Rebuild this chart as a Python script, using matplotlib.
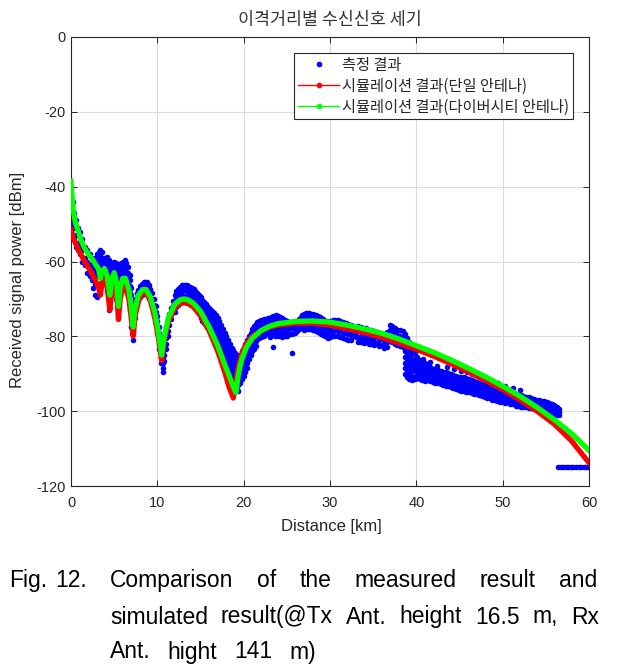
import matplotlib
matplotlib.use("Agg")
import matplotlib.pyplot as plt
from matplotlib.lines import Line2D
from matplotlib.font_manager import FontProperties

plt.rcParams['font.family'] = ['Liberation Sans', 'DejaVu Sans']
plt.rcParams['axes.unicode_minus'] = False

# ---------------- data ----------------
title = '이격거리별 수신신호 세기'
xlabel = 'Distance [km]'
ylabel = 'Received signal power [dBm]'
series_labels = ['측정 결과', '시뮬레이션 결과(단일 안테나)', '시뮬레이션 결과(다이버시티 안테나)']
x_ticks = [0, 10, 20, 30, 40, 50, 60]
y_ticks = [-120, -100, -80, -60, -40, -20, 0]

# measured result: (distance km, [received power dBm ...])
meas = [
    (0.05, [-40, -45, -50, -53]), (0.2, [-44, -49, -53]), (0.4, [-47, -51, -54]),
    (0.6, [-49, -53, -56]), (0.8, [-51, -55, -57]), (1.0, [-52, -56, -58]),
    (1.3, [-54, -57, -60]), (1.6, [-56, -59, -61]), (1.9, [-57, -60, -63]),
    (2.2, [-58, -61, -64]), (2.4, [-59, -62, -65]),
    (2.6, [-60, -61.5, -63, -65, -67]), (2.8, [-59, -60.5, -62, -64, -66, -69]),
    (3.0, [-58, -59.5, -61, -62.5, -64, -69.5]), (3.2, [-57.5, -59, -60.5, -62, -64, -66]),
    (3.4, [-57, -58.5, -60, -61.5, -63, -66, -68]), (3.6, [-57.5, -59, -60.5, -62, -64]),
    (3.8, [-59, -60.5, -62, -63.5]), (4.0, [-59, -60.5, -62, -63.5, -65]),
    (4.2, [-58.7, -60.2, -61.7, -63.2, -65, -68]), (4.4, [-59.5, -61, -62.5, -64, -66, -70, -73]),
    (4.6, [-60.5, -62, -63.5, -65, -67, -69]), (4.8, [-60.5, -62, -63.5]),
    (5.0, [-60, -61.5, -63]), (5.2, [-60.5, -62, -63.5, -65, -67.5, -70]),
    (5.4, [-61.5, -63, -64.5, -66, -68, -71.5, -75]), (5.6, [-61.5, -63, -64.5, -66, -68, -72]),
    (5.8, [-60.5, -62, -63.5]), (6.0, [-60, -61.5, -63]), (6.2, [-59.6, -61.1, -62.6, -64]),
    (6.4, [-60.3, -61.8, -63.3, -64.5]), (6.6, [-61.5, -63, -64.5, -66]),
    (6.8, [-63.5, -65, -66.5, -68.5, -71, -73]), (7.0, [-67, -69, -71, -73, -75, -77.5]),
    (7.2, [-71, -73, -75, -77, -79, -81]), (7.4, [-70, -71.5, -73, -75]),
    (7.6, [-68.5, -70, -71.5]), (7.8, [-67.5, -69, -70.5]), (8.0, [-66.5, -68, -69.5]),
    (8.2, [-66, -67.5, -69]), (8.4, [-65.5, -67, -68.5]), (8.6, [-65.4, -66.9, -68.4]),
    (8.8, [-65.6, -67.1, -68.6]), (9.0, [-66.2, -67.7, -69.2]), (9.2, [-67.3, -68.8, -70.3]),
    (9.4, [-68.5, -70, -71.5]), (9.6, [-70, -71.5, -73, -74.5]), (9.8, [-72, -73.5, -75, -76.5]),
    (10.0, [-74.5, -76, -77.5, -79]), (10.2, [-77.5, -79, -80.5, -82, -83.5]),
    (10.4, [-81, -82.5, -84, -85.5, -87]), (10.6, [-84, -85.5, -87, -88.5]), (10.7, [-89.5]),
    (10.8, [-80.5, -82, -83.5, -85, -86.5]), (11.0, [-77.5, -79, -80.5, -82, -83.5]),
    (11.2, [-75.5, -77, -78.5, -80]), (11.4, [-74, -75.5, -77]), (11.6, [-72.5, -74, -75.5]),
    (11.8, [-70.5, -72, -73.5]), (12.0, [-69, -70.5, -72, -73.5]),
    (12.2, [-68, -69.4, -70.8, -72.2]), (12.4, [-67.3, -68.7, -70.1, -71.5]),
    (12.6, [-66.8, -68.2, -69.6, -71]), (12.8, [-66.4, -67.8, -69.2, -70.6]),
    (13.0, [-66.3, -67.7, -69.1, -70.5]), (13.2, [-66.3, -67.7, -69.1, -70.5]),
    (13.4, [-66.4, -67.8, -69.2, -70.6]), (13.6, [-66.5, -67.9, -69.3, -70.7]),
    (13.8, [-66.7, -68.1, -69.5, -70.9]), (14.0, [-67, -68.4, -69.8, -71.2]),
    (14.2, [-67.4, -68.8, -70.2, -71.6]), (14.4, [-67.9, -69.3, -70.7, -72.1]),
    (14.6, [-68.4, -69.8, -71.2, -72.6]), (14.8, [-69, -70.4, -71.8, -73.2]),
    (15.0, [-69.6, -71, -72.4, -73.8, -75]), (15.2, [-70.2, -71.6, -73, -74.4, -75.8]),
    (15.4, [-70.8, -72.2, -73.6, -75, -76.4]), (15.6, [-71.4, -72.8, -74.2, -75.6, -77]),
    (15.8, [-72, -73.4, -74.8, -76.2, -77.6]), (16.0, [-72.5, -73.9, -75.3, -76.7, -78.1]),
    (16.2, [-73, -74.4, -75.8, -77.2, -78.6]), (16.4, [-73.4, -74.8, -76.2, -77.6, -79]),
    (16.6, [-73.8, -75.2, -76.6, -78, -79.4]), (16.8, [-74.2, -75.6, -77, -78.4, -79.8, -81]),
    (17.0, [-75, -76.4, -77.8, -79.2, -80.6, -82]), (17.2, [-76, -77.4, -78.8, -80.2, -81.6, -83]),
    (17.4, [-77, -78.4, -79.8, -81.2, -82.6, -84]), (17.6, [-78, -79.4, -80.8, -82.2, -83.6, -85]),
    (17.8, [-79, -80.4, -81.8, -83.2, -84.6, -86]),
    (18.0, [-80, -81.4, -82.8, -84.2, -85.6, -87, -88.4]),
    (18.2, [-81, -82.4, -83.8, -85.2, -86.6, -88, -89.4]),
    (18.4, [-82, -83.4, -84.8, -86.2, -87.6, -89, -90.4]),
    (18.6, [-83, -84.4, -85.8, -87.2, -88.6, -90, -91.4]),
    (18.8, [-83.6, -85, -86.4, -87.8, -89.2, -90.6, -92]),
    (19.0, [-84.5, -86, -87.5, -89, -90.5, -92, -93.5]),
    (19.2, [-85, -86.5, -88, -89.5, -91, -92.5, -94]),
    (19.4, [-85.5, -87, -88.5, -90, -91.5, -93, -94.5]),
    (19.6, [-85, -86.5, -88, -89.5, -91, -92.5]), (19.8, [-84, -85.5, -87, -88.5, -90, -91.5]),
    (20.0, [-83, -84.5, -86, -87.5, -89, -90.5]), (20.2, [-82, -83.5, -85, -86.5, -88, -89.5]),
    (20.4, [-81, -82.5, -84, -85.5, -87, -88.5]), (20.6, [-80, -81.5, -83, -84.5, -86]),
    (20.8, [-79, -80.5, -82, -83.5, -85]), (21.0, [-78, -79.5, -81, -82.5, -84]),
    (21.2, [-77.3, -78.8, -80.3, -81.8, -83.3]), (21.4, [-76.7, -78.2, -79.7, -81.2, -82.5]),
    (21.6, [-76.3, -77.8, -79.3, -80.8]), (21.8, [-76, -77.5, -79, -80.5]),
    (22.0, [-75.7, -77.2, -78.7, -80.2]), (22.2, [-75.6, -77.1, -78.6, -80]),
    (22.4, [-75.5, -77, -78.5, -80]), (22.6, [-75.3, -76.7, -78.1, -79.5]),
    (22.8, [-75.1, -76.5, -77.9, -79.3]), (23.0, [-75, -76.4, -77.8, -79.2, -80.2]),
    (23.2, [-74.8, -76.2, -77.6, -79]), (23.4, [-74.6, -76, -77.4, -78.8, -82.8]),
    (23.6, [-74.5, -75.9, -77.3, -78.7, -80]), (23.8, [-74.4, -75.8, -77.2, -78.6]),
    (24.0, [-74.5, -75.9, -77.3, -78.7, -80]), (24.2, [-74.7, -76.1, -77.5, -78.9]),
    (24.4, [-75, -76.4, -77.8, -79.2, -80.2]), (24.6, [-75.3, -76.7, -78.1, -79.5]),
    (24.8, [-75.6, -77, -78.4, -79.8]), (25.0, [-76, -77.4, -78.8, -80]),
    (25.2, [-76.3, -77.7, -79.1]), (25.4, [-76.5, -77.9, -79.3]),
    (25.6, [-76.5, -77.9, -79.3, -84.5]), (25.8, [-76.4, -77.8, -79.2]),
    (26.0, [-76.2, -77.6, -79]), (26.2, [-75.8, -77.2, -78.6]), (26.4, [-75.3, -76.7, -78.1]),
    (26.6, [-74.8, -76.2, -77.6]), (26.8, [-74.3, -75.7, -77.1]),
    (27.0, [-74, -75.4, -76.8, -78.2]), (27.2, [-73.8, -75.2, -76.6, -78]),
    (27.4, [-73.8, -75.2, -76.6, -78]), (27.6, [-73.8, -75.2, -76.6, -78]),
    (27.8, [-73.9, -75.3, -76.7, -78.1]), (28.0, [-74, -75.4, -76.8, -78.2]),
    (28.2, [-74.2, -75.6, -77, -78.4]), (28.4, [-74.4, -75.8, -77.2, -78.6]),
    (28.6, [-74.6, -76, -77.4, -78.8]), (28.8, [-74.9, -76.3, -77.7, -79.1]),
    (29.0, [-75.2, -76.6, -78, -79.4]), (29.2, [-75.5, -76.9, -78.3, -79.6]),
    (29.4, [-75.8, -77.2, -78.6, -80]), (29.6, [-76, -77.4, -78.8, -80.2]),
    (29.8, [-76.2, -77.6, -79, -80.4]), (30.0, [-76, -77.4, -78.8, -80.2]),
    (30.3, [-75.7, -77.1, -78.5, -79.9]), (30.6, [-75.6, -77, -78.4, -79.8]),
    (30.9, [-75.7, -77.1, -78.5, -79.9]), (31.2, [-75.9, -77.3, -78.7, -80.1]),
    (31.5, [-76.2, -77.6, -79, -80.4]), (31.8, [-76.4, -77.8, -79.2, -80.6]),
    (32.1, [-76.7, -78.1, -79.5, -80.9]), (32.4, [-76.9, -78.3, -79.7, -81]),
    (32.7, [-77.2, -78.6, -80]), (33.0, [-77.4, -78.8, -80.2]),
    (33.3, [-77.3, -78.7, -80.1, -81.5]), (33.6, [-77.4, -78.8, -80.2, -81.5]),
    (33.9, [-77.7, -79.1, -80.5, -81.8]), (34.2, [-77.9, -79.3, -80.7, -81.6]),
    (34.5, [-78.2, -79.6, -81, -82]), (34.8, [-78.4, -79.8, -81.2, -82]),
    (35.1, [-78.7, -80.1, -81.5, -82.3]), (35.4, [-78.9, -80.3, -81.7]),
    (35.7, [-79.2, -80.6, -82, -82.5]), (36.0, [-79.4, -80.8, -82.2]),
    (36.3, [-79.5, -80.9, -82.3, -83]), (36.6, [-78.8, -80.2, -81.6, -82.8]),
    (36.9, [-77, -78.4, -79.8, -81.2]), (37.2, [-77.3, -78.7, -80.1, -81.5]),
    (37.5, [-77.8, -79.2, -80.6, -82]), (37.8, [-78.2, -79.6, -81, -82.2]),
    (38.1, [-78.4, -79.8, -81.2, -82.5]), (38.4, [-78.7, -80.1, -81.5, -82.9]),
    (38.7, [-79.5, -81, -82.5, -84, -85.5, -87, -88.5, -90]),
    (38.9, [-80.5, -82, -83.5, -85, -86.5, -88, -89.5, -91]),
    (39.1, [-81.5, -83, -84.5, -86, -87.5, -89, -90.5, -91.5]),
    (39.3, [-82.5, -84, -85.5, -87, -88.5, -90, -91.5]),
    (39.5, [-83.3, -84.8, -86.3, -87.8, -89.3, -90.8, -91.7]),
    (39.8, [-84.5, -86, -87.5, -89, -90.5, -91.5]),
    (40.1, [-85.6, -87, -88.4, -89.8, -91.2]), (40.4, [-86.2, -87.6, -89, -90.4, -91.4]),
    (40.7, [-86.6, -88, -89.4, -90.8, -91.6]), (41.0, [-87, -88.4, -89.8, -91.2, -91.9]),
    (41.3, [-87.8, -89.1, -90.4, -91.7]), (41.6, [-88.2, -89.5, -90.8, -92]),
    (41.9, [-88.6, -89.9, -91.2, -92.2]), (42.2, [-88.8, -90.1, -91.4, -92.4]),
    (42.5, [-89, -90.3, -91.6, -92.6]), (42.8, [-89.3, -90.6, -91.9, -92.8]),
    (43.1, [-89.5, -90.8, -92.1, -93]), (43.4, [-89.6, -90.9, -92.2, -93.2]),
    (43.7, [-89.9, -91.2, -92.5, -93.4]), (44.0, [-90.2, -91.5, -92.8, -93.6]),
    (44.3, [-90.4, -91.7, -93, -93.9]), (44.6, [-90.6, -91.9, -93.2, -94.1]),
    (44.9, [-90.8, -92.1, -93.4, -94.4]), (45.2, [-91, -92.3, -93.6, -94.6]),
    (45.5, [-91, -92.3, -93.6, -94.7]), (45.8, [-91.1, -92.4, -93.7, -94.9]),
    (46.1, [-91.3, -92.6, -93.9, -95]), (46.4, [-91.6, -92.9, -94.2, -95.1]),
    (46.7, [-91.9, -93.2, -94.5, -95.3]), (47.0, [-92.1, -93.4, -94.7, -95.5]),
    (47.3, [-92.4, -93.7, -95, -95.8]), (47.6, [-92.7, -94, -95.3, -96]),
    (47.9, [-92.9, -94.2, -95.5, -96.2]), (48.2, [-93.1, -94.4, -95.7, -96.4]),
    (48.5, [-93.3, -94.6, -95.9, -96.6]), (48.8, [-93.6, -94.9, -96.2, -96.9]),
    (49.1, [-93.9, -95.2, -96.5, -97.1]), (49.4, [-94.2, -95.5, -96.8, -97.3]),
    (49.7, [-94.5, -95.8, -97, -97.5]), (50.0, [-94.8, -96, -97.2, -97.6]),
    (50.3, [-95, -96.2, -97.4, -97.8]), (50.6, [-95.1, -96.3, -97.5]),
    (50.9, [-95.2, -96.4, -97.6, -98]), (51.2, [-95.3, -96.5, -97.7, -98.2]),
    (51.5, [-95.4, -96.6, -97.8, -98.5]), (51.8, [-95.6, -96.8, -98, -98.7]),
    (52.1, [-95.8, -97, -98.2, -98.9]), (52.4, [-95.9, -97.1, -98.3, -99]),
    (52.7, [-96.1, -97.3, -98.5, -99]), (53.0, [-96.2, -97.4, -98.6, -99.1]),
    (53.3, [-96.4, -97.6, -98.8, -99.2]), (53.6, [-96.7, -97.9, -99, -99.4]),
    (53.9, [-96.9, -98.1, -99.2, -99.5]), (54.2, [-97, -98.2, -99.4, -99.7]),
    (54.5, [-97.2, -98.4, -99.6, -99.9]), (54.8, [-97.4, -98.6, -99.8, -100.1]),
    (55.1, [-97.6, -98.8, -100, -100.3]), (55.4, [-97.8, -99, -100.2, -100.6]),
    (55.7, [-98, -99.2, -100.4, -100.9]), (56.0, [-98.3, -99.5, -100.6, -101]),
    (56.3, [-99, -100, -101]), (56.5, [-99.5, -100.3, -101]),
    # sparse dots above the band after 40 km
    (40.8, [-86]), (41.6, [-86.8]), (42.4, [-87.8]), (43.6, [-88.3]), (44.4, [-88.6]),
    (45.2, [-89.2]), (45.9, [-89.5]), (46.4, [-90]), (47.2, [-90.5]), (48.0, [-91.3]),
    (48.7, [-91.8]), (49.5, [-92.6]), (50.3, [-93.2]), (51.2, [-93.8]), (52.0, [-94.3]),
    # floor after the link is lost
    (56.4, [-114.8]), (56.7, [-114.8]), (57.0, [-114.8]), (57.3, [-114.8]), (57.6, [-114.8]),
    (57.9, [-114.8]), (58.2, [-114.8]), (58.5, [-114.8]), (58.8, [-114.8]), (59.1, [-114.8]),
    (59.4, [-114.8]), (59.7, [-114.8]), (59.9, [-114.8]),
]

# simulated, single antenna
red_x = [0, 0.25, 0.5, 1.0, 1.6, 2.0, 2.5, 2.9, 3.2, 3.4, 3.6, 3.9, 4.2, 4.5, 4.7, 5.0,
         5.3, 5.5, 5.7, 6.0, 6.3, 6.7, 7.0, 7.2, 7.4, 7.8, 8.3, 8.7, 9.2, 9.7, 10.1, 10.5,
         10.8, 11.3, 12.0, 12.6, 13.1, 13.6, 14.2, 15.0, 16.0, 17.0, 17.8, 18.3, 18.8, 19.1,
         19.4, 19.8, 20.3, 21, 22, 23, 24, 26, 28, 30, 32, 34, 36, 38, 40, 42, 44, 46, 48,
         50, 52, 54, 56, 58, 60]
red_y = [-51.5, -53.5, -55, -57.5, -60, -61.5, -63.5, -65.5, -67, -69, -65.5, -64.5, -67,
         -73, -68, -65.5, -69, -75.5, -70, -67, -66.5, -70, -75.5, -80, -75, -70.5, -68.5,
         -68.5, -70.5, -75, -80, -86.5, -81, -76, -72.5, -71.2, -71, -71.3, -72.2, -74.5,
         -78.5, -84, -89.5, -93.5, -96.5, -92, -88, -84.5, -82, -80, -78.5, -77.5, -77,
         -76.5, -76.5, -77, -78, -79, -80.3, -81.8, -83.5, -85.3, -87.3, -89.5, -91.8,
         -94.2, -97, -100, -103.5, -108, -113.8]

# simulated, diversity antenna
green_x = [0, 0.1, 0.25, 0.5, 0.85, 1.2, 1.6, 2.0, 2.5, 2.9, 3.2, 3.4, 3.6, 3.9, 4.2, 4.5,
           4.7, 5.0, 5.3, 5.5, 5.7, 6.0, 6.3, 6.7, 7.0, 7.2, 7.4, 7.8, 8.3, 8.7, 9.2, 9.7,
           10.1, 10.5, 10.8, 11.3, 12.0, 12.6, 13.1, 13.6, 14.2, 15.0, 16.0, 17.0, 17.8,
           18.4, 18.8, 19.1, 19.4, 19.8, 20.3, 21, 22, 23, 24, 26, 28, 30, 32, 34, 36, 38,
           40, 42, 44, 46, 48, 50, 52, 54, 56, 58, 60]
green_y = [-38.5, -42, -46, -49.5, -52, -54.5, -56.5, -58, -59.5, -61, -62, -64.5, -62.5,
           -62, -64, -69, -65, -63, -66, -72, -67, -64.5, -64.5, -67.5, -72.5, -77.5, -73,
           -69, -67.5, -67.5, -69.5, -73.5, -78.5, -85, -80, -75, -71.5, -70.3, -70, -70.3,
           -71.2, -73.3, -77.5, -82.5, -87.5, -91, -93.5, -95, -90, -86, -83, -80.5, -78.5,
           -77.3, -76.6, -76, -75.9, -76.2, -77, -78, -79.2, -80.7, -82.5, -84.3, -86.3,
           -88.5, -90.8, -93.3, -96, -99, -102.3, -106, -110.5]

# caption
caption_label = ['Fig.', '12.']
caption_lines = [
    ['Comparison', 'of', 'the', 'measured', 'result', 'and'],
    ['simulated', 'result(@Tx', 'Ant.', 'height', '16.5', 'm,', 'Rx'],
    ['Ant.', 'hight', '141', 'm)'],
]

# ---------------- layout ----------------
W, H = 618, 672
label_x = [9, 55]
cap_left = 110
cap_right = [597, 599, None]
cap_base = [587, 623.5, 658.5]
cap_gap_last = 17
cap_size = 16.5


def fx(p):
    return p / W


def fy(p):
    return 1 - p / H


fig = plt.figure(figsize=(W / 100, H / 100), dpi=100)
ax = fig.add_axes([fx(71), fy(486), (589 - 71) / W, (486 - 37) / H])

mx = [x for x, ys in meas for _ in ys]
my = [y for _, ys in meas for y in ys]
ax.plot(mx, my, 'o', color='#0000ff', ms=4.0, mew=0, zorder=2)
ax.plot(red_x, red_y, '-', color='#ff0000', lw=3.8, zorder=3, solid_joinstyle='round')
ax.plot(green_x, green_y, '-', color='#00ff00', lw=3.8, zorder=4, solid_joinstyle='round')

ax.set_xlim(0, 60)
ax.set_ylim(-120, 0)
ax.set_xticks(x_ticks)
ax.set_yticks(y_ticks)
ax.grid(True, color='#dcdcdc', lw=0.8)
ax.set_axisbelow(True)
for s in ax.spines.values():
    s.set_color('#262626')
    s.set_linewidth(0.8)
ax.tick_params(direction='in', length=4, width=0.7, top=True, right=True,
               colors='#262626', labelsize=10.5)
ax.tick_params(axis='x', pad=7)
ax.tick_params(axis='y', pad=4)

kfont = ['Noto Sans CJK KR', 'DejaVu Sans']
fig.text(fx(330), fy(20), title, ha='center', va='center', fontsize=12.5,
         family=kfont, color='#333333')
fig.text(fx(18), fy(280), ylabel, rotation=90, ha='center', va='center',
         fontsize=12, color='#262626')
fig.text(fx(331), fy(527), xlabel, ha='center', va='center', fontsize=12, color='#262626')

handles = [
    Line2D([], [], color='#0000ff', marker='.', ls='none', ms=6),
    Line2D([], [], color='#ff0000', marker='.', lw=1, ms=6),
    Line2D([], [], color='#00ff00', marker='.', lw=1, ms=6),
]
leg = ax.legend(handles, series_labels, loc='upper right',
                bbox_to_anchor=(fx(573), fy(53)), bbox_transform=fig.transFigure,
                prop=FontProperties(family='Noto Sans CJK KR', size=11),
                frameon=True, fancybox=False, framealpha=1, edgecolor='#262626',
                borderpad=0.25, labelspacing=0.25, handlelength=2.7, handletextpad=0.2,
                borderaxespad=0)
leg.get_frame().set_linewidth(0.8)
for t in leg.get_texts():
    t.set_color('#262626')

# caption: label + justified lines
renderer = fig.canvas.get_renderer()
for w, x in zip(caption_label, label_x):
    fig.text(fx(x), fy(cap_base[0]), w, ha='left', va='baseline', fontsize=cap_size)
for words, right, base in zip(caption_lines, cap_right, cap_base):
    texts = [fig.text(0, fy(base), w, ha='left', va='baseline', fontsize=cap_size)
             for w in words]
    widths = [t.get_window_extent(renderer).width for t in texts]
    if right is None:
        gap = cap_gap_last
    else:
        gap = (right - cap_left - sum(widths)) / (len(words) - 1)
    x = cap_left
    for t, wd in zip(texts, widths):
        t.set_x(fx(x))
        x += wd + gap

fig.savefig('out.png', dpi=100)
